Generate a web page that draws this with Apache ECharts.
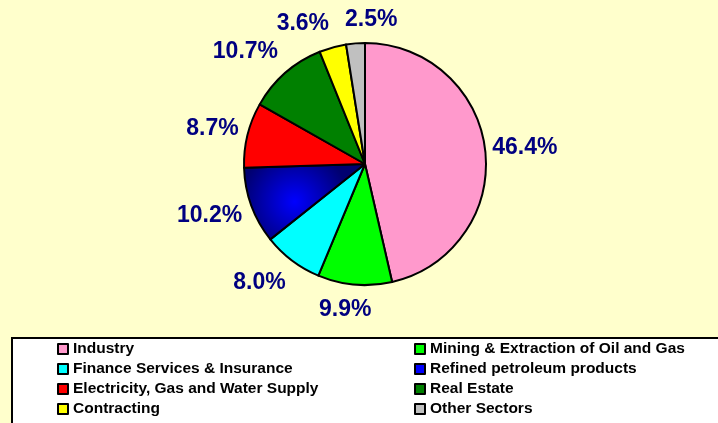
<!DOCTYPE html>
<html>
<head>
<meta charset="utf-8">
<script src="https://cdn.jsdelivr.net/npm/echarts@6/dist/echarts.min.js"></script>
<style>
  html, body { margin: 0; padding: 0; background: #FFFFCC; }
  #main { width: 718px; height: 423px; }
</style>
</head>
<body>
<div id="main"></div>
<script>
var sectors = ['Industry', 'Mining & Extraction of Oil and Gas', 'Finance Services & Insurance',
    'Refined petroleum products', 'Electricity, Gas and Water Supply', 'Real Estate',
    'Contracting', 'Other Sectors'];
var shares = [46.4, 9.9, 8.0, 10.2, 8.7, 10.7, 3.6, 2.5];
var colors = ['#FF99CC', '#00FF00', '#00FFFF', '#0000FF', '#FF0000', '#008000', '#FFFF00', '#C0C0C0'];

var cx = 365, cy = 164, R = 121;
var total = 0;
for (var i = 0; i < shares.length; i++) total += shares[i];

var FONT = '"Liberation Sans", Arial, sans-serif';

var myChart = echarts.init(document.getElementById('main'));

var pieData = [];
for (var i = 0; i < shares.length; i++) {
    var c = colors[i];
    if (i === 3) {
        // blue slice has a shaded look
        c = new echarts.graphic.RadialGradient(0.42, 0.5, 0.7, [
            {offset: 0, color: '#0000FF'},
            {offset: 1, color: '#000070'}
        ]);
    }
    pieData.push({value: shares[i], name: sectors[i], itemStyle: {color: c}});
}

var legendData = sectors.map(function (s, i) {
    return {name: s, itemStyle: {color: colors[i]}};
});

// place labels outside the slice, a bit like the spreadsheet does
var placed = [];
function placeLabel(params) {
    var idx = params.dataIndex;
    var before = 0;
    for (var j = 0; j < idx; j++) before += shares[j];
    var a = (before + shares[idx] / 2) / total * Math.PI * 2;
    var ux = Math.sin(a), uy = -Math.cos(a);
    var ax = cx + ux * (R + 7), ay = cy + uy * (R + 7);
    var w = params.labelRect.width, h = params.labelRect.height;
    var fx = Math.max(0, Math.min(1.04, 0.5 - ux * 2));
    var fy = Math.max(-0.2, Math.min(1.15, 0.5 - uy * 0.8));
    var x = ax - fx * w, y = ay - fy * h;
    // push to the right if it collides with an earlier label
    for (var k = 0; k < placed.length; k++) {
        var p = placed[k];
        if (p.idx !== idx && x < p.x + p.w && x + w > p.x && y < p.y + p.h && y + h > p.y) {
            x = p.x + p.w + 16;
        }
    }
    placed = placed.filter(function (p) { return p.idx !== idx; });
    placed.push({idx: idx, x: x, y: y, w: w, h: h});
    return {x: x, y: y, align: 'left', verticalAlign: 'top'};
}

var option = {
    backgroundColor: '#FFFFCC',
    animation: false,
    graphic: [{
        type: 'rect',
        z: -1,
        shape: {x: 12, y: 338, width: 720, height: 100},
        style: {fill: '#FFFFFF', stroke: '#000000', lineWidth: 2}
    }],
    legend: {
        left: 57,
        top: 339,
        width: 720,
        orient: 'horizontal',
        itemGap: 0,
        itemWidth: 10,
        itemHeight: 10,
        selectedMode: false,
        icon: 'rect',
        padding: 0,
        itemStyle: {borderColor: '#000', borderWidth: 2},
        formatter: function (name) { return '{b|' + name + '}'; },
        textStyle: {
            width: 341,
            lineHeight: 20,
            rich: {
                b: {
                    fontFamily: FONT,
                    fontWeight: 'bold',
                    fontSize: 15.5,
                    color: '#000',
                    lineHeight: 20
                }
            }
        },
        data: legendData
    },
    series: [{
        type: 'pie',
        center: [cx, cy],
        radius: R,
        startAngle: 90,
        clockwise: true,
        itemStyle: {borderColor: '#000', borderWidth: 2},
        emphasis: {disabled: true},
        label: {
            show: true,
            position: 'outside',
            formatter: function (p) { return p.value.toFixed(1) + '%'; },
            fontFamily: FONT,
            fontWeight: 700,
            fontSize: 23,
            lineHeight: 26,
            color: '#000080'
        },
        labelLine: {show: false},
        labelLayout: placeLabel,
        data: pieData
    }]
};

myChart.setOption(option);
</script>
</body>
</html>
